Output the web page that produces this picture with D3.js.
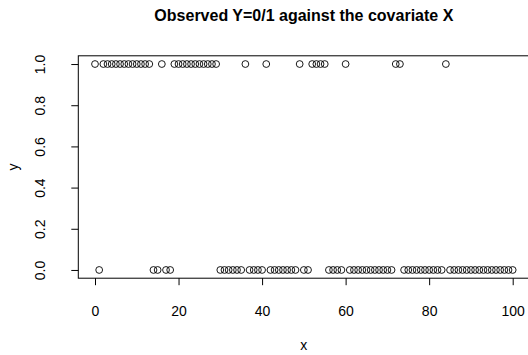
<!DOCTYPE html>
<html><head><meta charset="utf-8">
<script src="https://cdn.jsdelivr.net/npm/d3@7"></script>
<style>body{margin:0;background:#fff}svg{display:block}text{font-family:"Liberation Sans",Arial,Helvetica,sans-serif}</style>
</head><body>
<script>
// Observed data: covariate x = 0..100, response y (0/1)
const xValues = d3.range(0, 101);
const onesAt = [0,2,3,4,5,6,7,8,9,10,11,12,13,16,19,20,21,22,23,24,25,26,27,28,29,36,41,49,52,53,54,55,60,72,73,84];
const yValues = xValues.map(x => onesAt.includes(x) ? 1 : 0);
const xTicks = [0,20,40,60,80,100];
const yTicks = [0,0.2,0.4,0.6,0.8,1.0];
const title = "Observed Y=0/1 against the covariate X";

const W = 528, H = 355;
const FS = 14;
const svg = d3.select("body").append("svg").attr("width", W).attr("height", H);
const box = {l: 78.3, r: 529.4, t: 55.8, b: 278.2};
const x = d3.scaleLinear().domain([-4, 104]).range([box.l, box.r]);
const y = d3.scaleLinear().domain([-0.04, 1.04]).range([box.b, box.t]);

svg.append("rect").attr("x", box.l).attr("y", box.t).attr("width", box.r - box.l).attr("height", box.b - box.t)
  .attr("fill", "none").attr("stroke", "#000").attr("stroke-width", 1);

const gx = svg.append("g").attr("transform", `translate(0,${box.b})`)
  .call(d3.axisBottom(x).tickValues(xTicks).tickSize(7).tickFormat(d3.format("d")));
gx.select(".domain").remove();
gx.selectAll("text").attr("y", 38).attr("dy", null).attr("font-size", FS).attr("fill", "#000")
  .attr("font-family", "Liberation Sans, Arial, sans-serif");
gx.selectAll("line").attr("stroke", "#000");

const gy = svg.append("g").attr("transform", `translate(${box.l},0)`)
  .call(d3.axisLeft(y).tickValues(yTicks).tickSize(7).tickFormat(d3.format(".1f")));
gy.select(".domain").remove();
gy.selectAll("line").attr("stroke", "#000");
gy.selectAll("text").attr("x", null).attr("dy", null).attr("y", null)
  .attr("text-anchor", "middle").attr("font-size", FS).attr("fill", "#000")
  .attr("font-family", "Liberation Sans, Arial, sans-serif")
  .attr("transform", "translate(-33,0) rotate(-90)");

svg.append("g").selectAll("circle").data(xValues).join("circle")
  .attr("cx", d => x(d)).attr("cy", (d, i) => y(yValues[i])).attr("r", 3.4)
  .attr("fill", "none").attr("stroke", "#000").attr("stroke-width", 0.9);

svg.append("text").attr("x", (box.l + box.r) / 2).attr("y", 21).attr("text-anchor", "middle")
  .attr("font-size", 16).attr("font-weight", "bold").text(title);
svg.append("text").attr("x", (box.l + box.r) / 2).attr("y", 350).attr("text-anchor", "middle")
  .attr("font-size", FS).text("x");
svg.append("text").attr("transform", `translate(18,${(box.t + box.b) / 2}) rotate(-90)`).attr("text-anchor", "middle")
  .attr("font-size", FS).text("y");
</script>
</body></html>
